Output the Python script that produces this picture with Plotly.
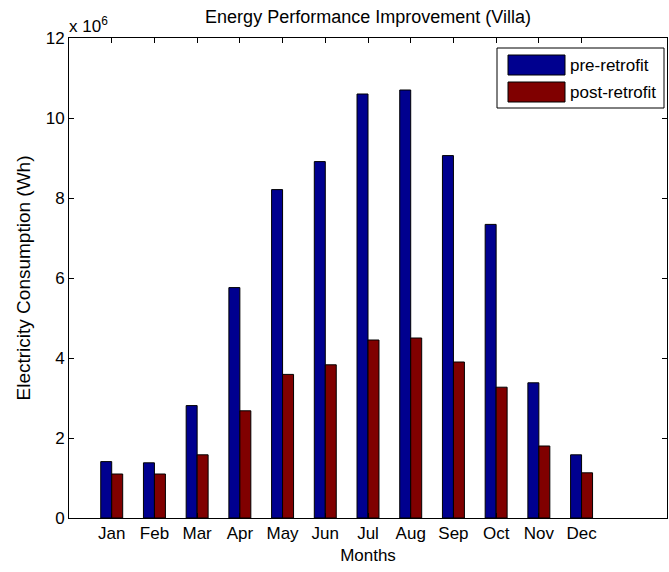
import plotly.graph_objects as go

# Monthly electricity consumption of the villa (Wh)
months = ["Jan", "Feb", "Mar", "Apr", "May", "Jun",
          "Jul", "Aug", "Sep", "Oct", "Nov", "Dec"]
pre_retrofit = [1.41e6, 1.38e6, 2.81e6, 5.76e6, 8.21e6, 8.91e6,
                10.60e6, 10.70e6, 9.06e6, 7.34e6, 3.38e6, 1.58e6]
post_retrofit = [1.10e6, 1.10e6, 1.58e6, 2.68e6, 3.59e6, 3.83e6,
                 4.45e6, 4.50e6, 3.90e6, 3.27e6, 1.80e6, 1.13e6]

y_ticks = [0, 2e6, 4e6, 6e6, 8e6, 10e6, 12e6]
y_tick_labels = ["0", "2", "4", "6", "8", "10", "12"]

series_names = ["pre-retrofit", "post-retrofit"]
colors = ["#00008F", "#800000"]

FONT = "Liberation Sans, Arial, Helvetica, sans-serif"
FS = 17
x_pos = list(range(1, len(months) + 1))

fig = go.Figure()
for name, vals, col in zip(series_names, [pre_retrofit, post_retrofit], colors):
    fig.add_trace(go.Bar(
        x=x_pos, y=vals, name=name,
        marker=dict(color=col, line=dict(color="black", width=1)),
        showlegend=False,
    ))

W, H = 669, 572
pl, pr, pt, pb = 69, 2, 38, 54

fig.update_layout(
    width=W, height=H,
    margin=dict(l=pl, r=pr, t=pt, b=pb),
    paper_bgcolor="white", plot_bgcolor="white",
    barmode="group", bargap=0.486, bargroupgap=0.0,
    font=dict(family=FONT, size=FS, color="black"),
    title=dict(text="Energy Performance Improvement (Villa)",
               x=(pl + (W - pl - pr) / 2) / W, xref="container",
               y=1 - 17 / H, yref="container",
               xanchor="center", yanchor="middle",
               font=dict(family=FONT, size=18, color="black")),
    xaxis=dict(
        range=[0, 14], tickvals=x_pos, ticktext=months,
        ticks="inside", ticklen=5, tickcolor="black", tickwidth=1,
        showline=True, linecolor="black", linewidth=1, mirror="ticks",
        showgrid=False, zeroline=False,
        title=dict(text="Months", standoff=6,
                   font=dict(family=FONT, size=FS)),
        tickfont=dict(family=FONT, size=FS),
    ),
    yaxis=dict(
        range=[0, 12e6], tickvals=y_ticks, ticktext=y_tick_labels,
        ticks="inside", ticklen=5, tickcolor="black", tickwidth=1,
        showline=True, linecolor="black", linewidth=1, mirror="ticks",
        showgrid=False, zeroline=False,
        title=dict(text="Electricity Consumption (Wh)", standoff=10,
                   font=dict(family=FONT, size=19)),
        tickfont=dict(family=FONT, size=FS),
    ),
)

# Axis exponent label
fig.add_annotation(
    x=0, y=1, xref="paper", yref="paper", xanchor="left", yanchor="bottom",
    xshift=-2, yshift=0, showarrow=False,
    text="x 10<sup>6</sup>", font=dict(family=FONT, size=FS),
)

# Legend box with large swatches
pw, ph = W - pl - pr, H - pt - pb


def px_x(x):
    return (x - pl) / pw


def px_y(y):
    return 1 - (y - pt) / ph


fig.add_shape(type="rect", xref="paper", yref="paper",
              x0=px_x(497), x1=px_x(664), y0=px_y(108), y1=px_y(48),
              line=dict(color="black", width=1), fillcolor="white")
for i, (name, col) in enumerate(zip(series_names, colors)):
    yc = 65 + i * 27
    fig.add_shape(type="rect", xref="paper", yref="paper",
                  x0=px_x(508), x1=px_x(565), y0=px_y(yc + 10), y1=px_y(yc - 10),
                  line=dict(color="black", width=1), fillcolor=col)
    fig.add_annotation(x=px_x(568), y=px_y(yc), xref="paper", yref="paper",
                       xanchor="left", yanchor="middle", showarrow=False,
                       text=name, font=dict(family=FONT, size=FS))

fig.write_html("out.html")
